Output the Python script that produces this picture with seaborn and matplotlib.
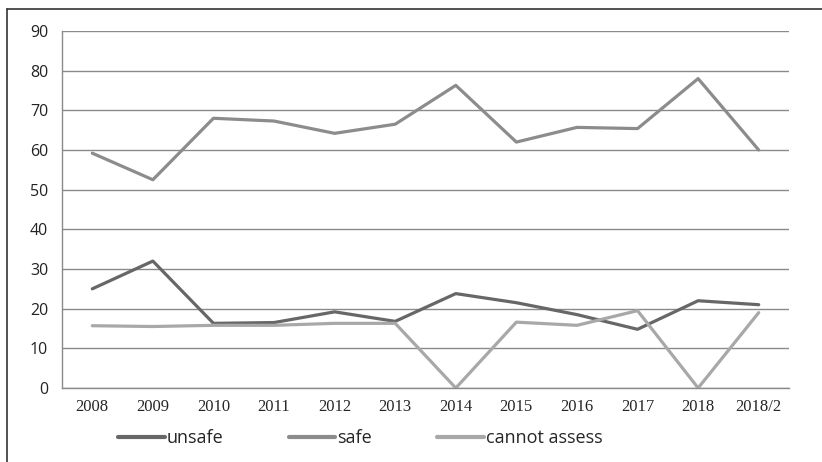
import numpy as np
import pandas as pd
import matplotlib.pyplot as plt
from matplotlib.lines import Line2D
from matplotlib.ticker import FixedLocator
import seaborn as sns

years = ["2008", "2009", "2010", "2011", "2012", "2013",
         "2014", "2015", "2016", "2017", "2018", "2018/2"]
unsafe = [25.0, 32.0, 16.3, 16.5, 19.2, 16.8, 23.8, 21.5, 18.5, 14.8, 22.0, 21.0]
safe = [59.2, 52.5, 68.0, 67.3, 64.2, 66.5, 76.3, 62.0, 65.7, 65.4, 78.0, 60.0]
cannot_assess = [15.7, 15.5, 15.8, 15.8, 16.3, 16.3, 0.0, 16.6, 15.8, 19.5, 0.0, 19.0]

series = {"unsafe": unsafe, "safe": safe, "cannot assess": cannot_assess}
colors = {"unsafe": "#676767", "safe": "#8c8c8c", "cannot assess": "#a8a8a8"}

df = pd.DataFrame({"year": years, **series})
long_df = df.melt(id_vars="year", var_name="series", value_name="value")
long_df["pos"] = long_df["year"].map({y: i for i, y in enumerate(years)})

sns.set_style("white")
plt.rcParams["font.family"] = ["Open Sans", "DejaVu Sans"]

fig = plt.figure(figsize=(8.22, 4.62), dpi=100)
ax = fig.add_axes([62 / 822, 1 - 388 / 462, (789 - 62) / 822, (388 - 31) / 462])

sns.lineplot(data=long_df, x="pos", y="value", hue="series", palette=colors,
             hue_order=list(series.keys()), linewidth=2.3, ax=ax, legend=False)

ax.set_xlim(-0.5, len(years) - 0.5)
ax.set_ylim(0, 90)
ax.set_yticks(np.arange(0, 91, 10))
ax.yaxis.grid(True, color="#8a8a8a", linewidth=1.0)
ax.set_axisbelow(True)

ax.set_xticks(range(len(years)))
ax.set_xticklabels(years, family=["Liberation Serif", "DejaVu Serif"], fontsize=12)
ax.xaxis.set_minor_locator(FixedLocator(np.arange(-0.5, len(years), 1)))
ax.tick_params(axis="x", which="major", length=0, pad=8)
ax.tick_params(axis="x", which="minor", length=5, color="#8a8a8a", width=1)
ax.tick_params(axis="y", length=5, color="#8a8a8a", width=1, labelsize=11.5, pad=5)
for lbl in ax.get_yticklabels():
    lbl.set_color("#222222")
ax.set_xlabel("")
ax.set_ylabel("")

for side in ["top", "right"]:
    ax.spines[side].set_visible(False)
for side in ["left", "bottom"]:
    ax.spines[side].set_color("#8a8a8a")
    ax.spines[side].set_linewidth(1.0)

handles = [Line2D([0], [0], color=colors[k], linewidth=3) for k in series]
fig.legend(handles, list(series.keys()), loc="center left",
           bbox_to_anchor=(118 / 822, 1 - 438 / 462),
           ncol=3, frameon=False, fontsize=13, handlelength=2.6, handletextpad=0.1,
           columnspacing=3.6, borderaxespad=0, borderpad=0)

# outer frame (top and left edges only)
fig.add_artist(Line2D([7 / 822, 1.0], [1 - 9 / 462] * 2, color="#333333", linewidth=1.2))
fig.add_artist(Line2D([7 / 822] * 2, [0, 1 - 9 / 462], color="#333333", linewidth=1.2))

fig.savefig("out.png", dpi=100)
